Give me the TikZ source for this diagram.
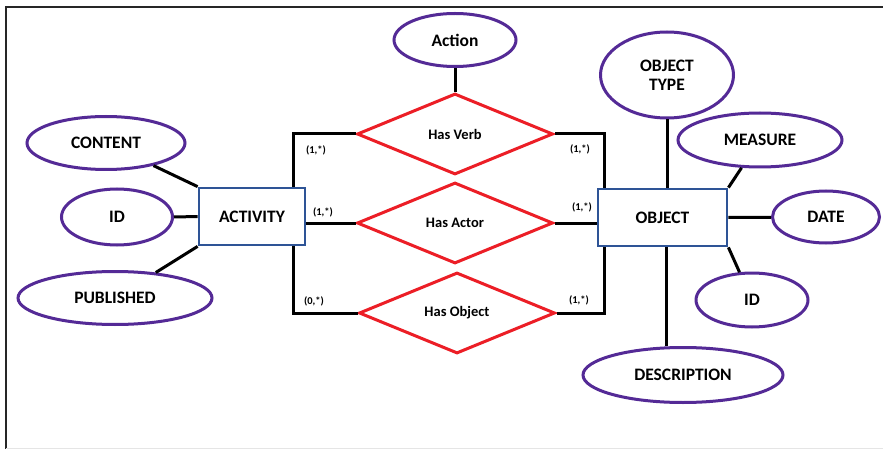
\documentclass[tikz,border=0pt]{standalone}
\usepackage{fontspec}
\setmainfont{Carlito}
\usetikzlibrary{shapes.geometric}
\definecolor{attrpurple}{RGB}{84,42,150}
\definecolor{relred}{RGB}{236,30,38}
\definecolor{entblue}{RGB}{46,84,150}
\tikzset{
  attr/.style={ellipse,draw=attrpurple,line width=3pt,inner sep=0pt,align=center,
    font=\fontsize{17.5}{18}\selectfont\bfseries},
  rel/.style={diamond,draw=relred,line width=3pt,inner sep=0pt,aspect=2.4,
    minimum width=196pt,minimum height=81pt,font=\fontsize{14.5}{16}\selectfont\bfseries},
  ent/.style={rectangle,draw=entblue,line width=2.8pt,inner sep=0pt,fill=white,
    font=\fontsize{17.5}{18}\selectfont\bfseries},
  conn/.style={draw=black,line width=3pt},
  card/.style={inner sep=0pt,font=\fontsize{10.5}{11}\selectfont\bfseries}
}
\begin{document}
\begin{tikzpicture}[x=1pt,y=-1pt]
\useasboundingbox (0,0) rectangle (883,449);
\fill[white] (0,0) rectangle (883,449);
% frame
\draw[line width=2.5pt,black!85] (6,449) -- (6,7) -- (883,7);
\draw[line width=0.8pt,black!10] (6,448.5) -- (883,448.5);

% relationships
\node[rel] (verb) at (455,134) {Has Verb};
\node[rel] (actor) at (455,223) {Has Actor};
\node[rel] (objrel) at (457,313) {Has Object};

% entities
\node[ent,minimum width=106pt,minimum height=57pt] (act) at (252,216.5) {ACTIVITY};
\node[ent,minimum width=129pt,minimum height=57pt] (obj) at (662.5,217.5) {OBJECT};

% attributes
\node[attr,minimum width=122pt,minimum height=53pt] (action) at (455,40) {Action};
\node[attr,minimum width=158pt,minimum height=53pt] (content) at (106,143) {CONTENT};
\node[attr,minimum width=111pt,minimum height=56pt] (idl) at (117,217) {ID};
\node[attr,minimum width=194pt,minimum height=53pt] (published) at (115,298) {PUBLISHED};
\node[attr,minimum width=133pt,minimum height=86pt] (objtype) at (667,75) {OBJECT\\[1pt]TYPE};
\node[attr,minimum width=164pt,minimum height=54pt] (measure) at (760,140) {MEASURE};
\node[attr,minimum width=107pt,minimum height=52pt] (date) at (826,217) {DATE};
\node[attr,minimum width=112pt,minimum height=54pt] (idr) at (752,300) {ID};
\node[attr,minimum width=200pt,minimum height=55pt] (desc) at (683,375) {DESCRIPTION};

% connectors entity - relationship
\draw[conn] (act.north west) ++(96,0) |- (verb.west);
\draw[conn] (act.south west) ++(96,0) |- (objrel.west);
\draw[conn] (act.east |- actor.west) -- (actor.west);
\draw[conn] (obj.north west) ++(8,0) |- (verb.east);
\draw[conn] (obj.south west) ++(8,0) |- (objrel.east);
\draw[conn] (actor.east) -- (obj.west |- actor.east);

% attribute connectors
\draw[conn] (action) -- (verb.north);
\draw[conn] (content) -- (act.north west);
\draw[conn] (idl.east) -- (act.west);
\draw[conn] (published) -- (act.south west);
\draw[conn] (objtype) -- (objtype |- obj.north);
\draw[conn] (measure) -- (obj.north east);
\draw[conn] (date) -- (obj.east);
\draw[conn] (idr) -- (obj.south east);
\draw[conn] (obj.south) ++(4,0) coordinate (dtop) -- (dtop |- desc.north);

% cardinalities
\node[card] (c1) at (316,150) {(1,*)};
\node[card] (c2) at (323,212) {(1,*)};
\node[card] (c3) at (314,301) {(0,*)};
\node[card] (c4) at (580,149) {(1,*)};
\node[card] (c5) at (582,207) {(1,*)};
\node[card] (c6) at (579,300) {(1,*)};
\end{tikzpicture}
\end{document}
